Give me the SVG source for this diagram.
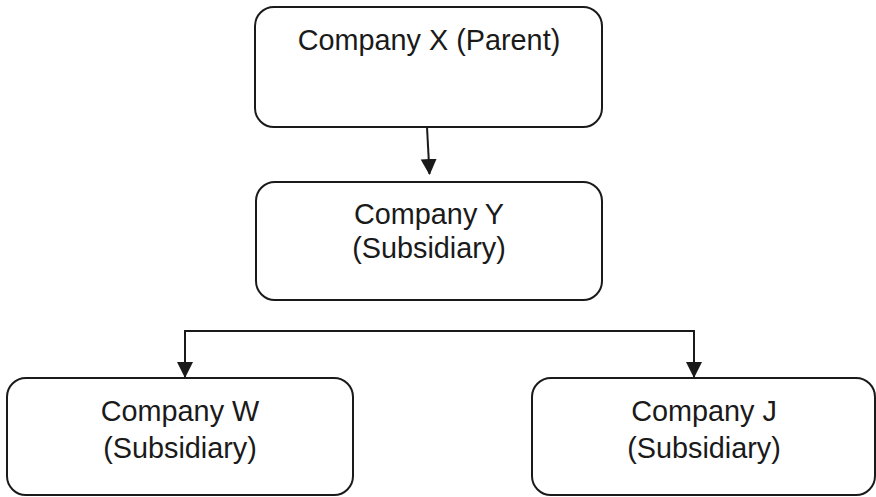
<svg xmlns="http://www.w3.org/2000/svg" width="876" height="497" viewBox="0 0 876 497">
<defs>
<style>
.box{fill:#fff;stroke:#1a1a1a;stroke-width:2}
.t{font-family:"Liberation Sans",Arial,sans-serif;font-size:28.8px;fill:#1a1a1a;text-anchor:middle}
.c{fill:none;stroke:#1a1a1a;stroke-width:2}
</style>
<marker id="ah" markerWidth="16" markerHeight="17" refX="15" refY="8" orient="auto" markerUnits="userSpaceOnUse">
<path d="M0,0 L16,8 L0,16 Z" fill="#1a1a1a"/>
</marker>
</defs>
<rect width="876" height="497" fill="#fff"/>
<g id="nodeX">
<rect class="box" x="255" y="7" width="347" height="120" rx="19"/>
<text class="t" x="429" y="50">Company X (Parent)</text>
</g>
<g id="nodeY">
<rect class="box" x="256" y="182" width="346" height="118" rx="19"/>
<text class="t" x="429" y="224">Company Y</text>
<text class="t" x="429" y="258">(Subsidiary)</text>
</g>
<g id="nodeW">
<rect class="box" x="7" y="378" width="346" height="117" rx="19"/>
<text class="t" x="180" y="421">Company W</text>
<text class="t" x="180" y="458">(Subsidiary)</text>
</g>
<g id="nodeJ">
<rect class="box" x="532" y="378" width="343" height="117" rx="19"/>
<text class="t" x="704" y="421">Company J</text>
<text class="t" x="704" y="458">(Subsidiary)</text>
</g>
<g id="connectors">
<path class="c" d="M427,127 L429.5,174" marker-end="url(#ah)"/>
<path class="c" d="M185,377 L185,331 L694,331 L694,377" marker-end="url(#ah)"/>
<path class="c" d="M185,340 L185,377" marker-end="url(#ah)"/>
</g>
</svg>
